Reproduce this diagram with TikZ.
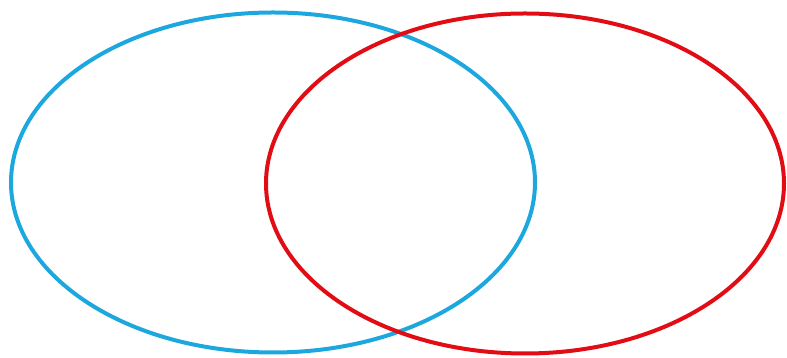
\documentclass[tikz,border=0pt]{standalone}
\definecolor{setblue}{RGB}{28,168,222}
\definecolor{setred}{RGB}{226,12,20}
\begin{document}
\begin{tikzpicture}[x=1pt,y=1pt,
  setline/.style={line width=4pt}]
\useasboundingbox (0,0) rectangle (787,358);
\draw[setline,setblue] (273,175.5) ellipse [x radius=262,y radius=170];
\draw[setline,setred] (525,174.5) ellipse [x radius=259,y radius=170];
\end{tikzpicture}
\end{document}
